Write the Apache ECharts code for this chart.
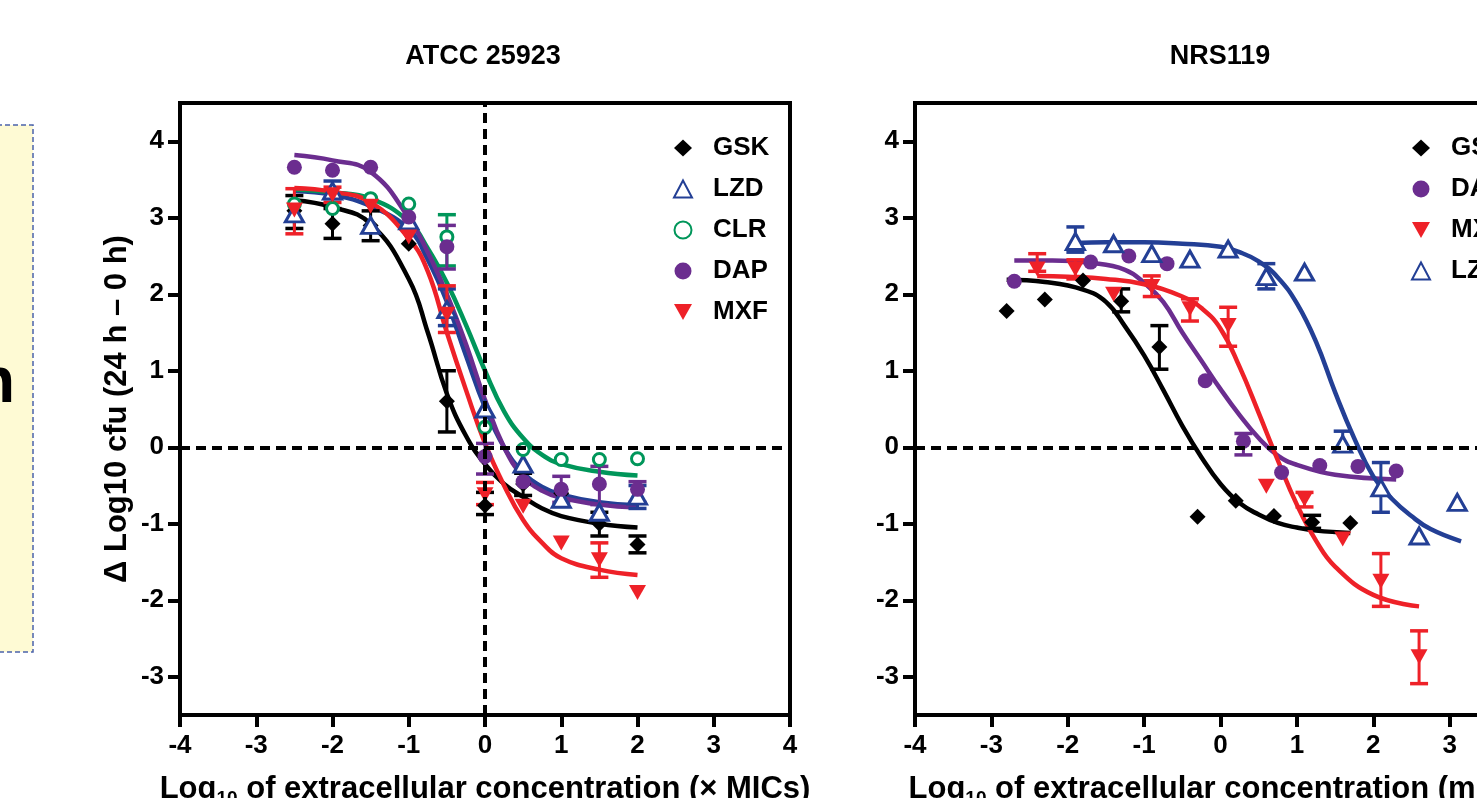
<!DOCTYPE html>
<html><head><meta charset="utf-8">
<script src="https://cdn.jsdelivr.net/npm/echarts@6/dist/echarts.min.js"></script>
<style>html,body{margin:0;padding:0;background:#fff;}#c{width:1477px;height:798px;}</style>
</head><body><div id="c"></div>
<script>
// ---------- tick labels ----------
const xTicks = [-4, -3, -2, -1, 0, 1, 2, 3, 4];
const yTicks = [-3, -2, -1, 0, 1, 2, 3, 4];

// ---------- Panel A: ATCC 25923 (x = log10 × MIC) ----------
const atccX = [-2.5, -2, -1.5, -1, -0.5, 0, 0.5, 1, 1.5, 2];
const atccGSK = [3.09, 2.92, 2.90, 2.66, 0.60, -0.76, -0.48, -0.60, -1.00, -1.27];
const atccLZD = [3.05, 3.35, 2.90, 2.96, 1.80, 0.50, -0.22, -0.68, -0.85, -0.64];
const atccCLR = [3.18, 3.12, 3.25, 3.18, 2.75, 0.26, -0.03, -0.16, -0.16, -0.15];
const atccDAP = [3.66, 3.62, 3.66, 3.01, 2.62, -0.12, -0.45, -0.55, -0.48, -0.55];
const atccMXF = [3.10, 3.30, 3.15, 2.75, 1.74, -0.62, -0.77, -1.25, -1.47, -1.90];
// error bars: [x, low, high]
const atccGSKErr = [[-2.5, 2.86, 3.29], [-2, 2.73, 3.12], [-1.5, 2.70, 3.09], [-0.5, 0.20, 1.00], [0, -0.88, -0.59], [0.5, -0.63, -0.34], [1.5, -1.16, -0.85], [2, -1.38, -1.16]];
const atccLZDErr = [[-2, 3.25, 3.48], [-0.5, 1.59, 2.07], [2, -0.80, -0.50]];
const atccCLRErr = [[-0.5, 2.37, 3.04]];
const atccDAPErr = [[-0.5, 2.33, 2.90], [0, -0.35, 0.05], [1, -0.72, -0.38], [1.5, -0.75, -0.25], [2, -0.72, -0.45]];
const atccMXFErr = [[-2.5, 2.79, 3.38], [-2, 3.20, 3.40], [-0.5, 1.50, 2.11], [0, -0.75, -0.46], [1.5, -1.70, -1.25]];
// fitted curves
const atccFitX = [-2.5, -2, -1.5, -1, -0.75, -0.5, -0.25, 0, 0.25, 0.5, 0.75, 1, 1.5, 2];
const atccGSKFit = [3.23, 3.14, 2.92, 2.20, 1.50, 0.70, 0.15, -0.22, -0.48, -0.65, -0.80, -0.90, -1.00, -1.05];
const atccLZDFit = [3.35, 3.30, 3.15, 2.85, 2.45, 1.90, 1.20, 0.52, 0.00, -0.33, -0.52, -0.62, -0.72, -0.76];
const atccCLRFit = [3.37, 3.33, 3.25, 2.95, 2.60, 2.15, 1.60, 1.00, 0.47, 0.12, -0.10, -0.22, -0.32, -0.37];
const atccDAPFit = [3.82, 3.75, 3.60, 3.00, 2.55, 2.00, 1.35, 0.62, 0.00, -0.38, -0.57, -0.66, -0.75, -0.79];
const atccMXFFit = [3.39, 3.34, 3.20, 2.73, 2.30, 1.50, 0.75, 0.05, -0.50, -0.95, -1.25, -1.45, -1.60, -1.67];

// ---------- Panel B: NRS119 (x = log10 mg/L) ----------
const nrsGSKX = [-2.8, -2.3, -1.8, -1.3, -0.8, -0.3, 0.2, 0.7, 1.2, 1.7];
const nrsGSK = [1.78, 1.93, 2.18, 1.91, 1.31, -0.91, -0.70, -0.90, -0.98, -0.99];
const nrsDAPX = [-2.7, -1.7, -1.2, -0.7, -0.2, 0.3, 0.8, 1.3, 1.8, 2.3];
const nrsDAP = [2.17, 2.42, 2.50, 2.40, 0.87, 0.08, -0.33, -0.24, -0.25, -0.31];
const nrsMXFX = [-2.4, -1.9, -1.4, -0.9, -0.4, 0.1, 0.6, 1.1, 1.6, 2.1, 2.6];
const nrsMXF = [2.33, 2.33, 2.00, 2.10, 1.81, 1.59, -0.51, -0.68, -1.20, -1.75, -2.74];
const nrsLZDX = [-1.9, -1.4, -0.9, -0.4, 0.1, 0.6, 1.1, 1.6, 2.1, 2.6, 3.1];
const nrsLZD = [2.69, 2.66, 2.53, 2.46, 2.59, 2.23, 2.29, 0.04, -0.53, -1.16, -0.72];
const nrsGSKErr = [[-1.3, 1.77, 2.07], [-0.8, 1.02, 1.59], [1.2, -1.06, -0.89]];
const nrsDAPErr = [[0.3, -0.10, 0.18]];
const nrsMXFErr = [[-2.4, 2.30, 2.53], [-1.9, 2.20, 2.45], [-0.9, 1.97, 2.24], [-0.4, 1.65, 1.94], [0.1, 1.32, 1.83], [1.1, -0.78, -0.59], [2.1, -2.08, -1.39], [2.6, -3.09, -2.40]];
const nrsLZDErr = [[-1.9, 2.55, 2.88], [0.6, 2.07, 2.40], [1.6, -0.05, 0.21], [2.1, -0.85, -0.20]];
const nrsGSKFitX = [-2.8, -2.3, -1.8, -1.5, -1.25, -1, -0.75, -0.5, -0.25, 0, 0.25, 0.5, 0.75, 1, 1.25, 1.7];
const nrsGSKFit = [2.19, 2.16, 2.06, 1.90, 1.58, 1.20, 0.75, 0.28, -0.13, -0.48, -0.73, -0.88, -0.99, -1.05, -1.09, -1.12];
const nrsDAPFitX = [-2.7, -2.2, -1.7, -1.25, -1, -0.75, -0.5, -0.25, 0, 0.25, 0.5, 0.75, 1, 1.5, 2.3];
const nrsDAPFit = [2.44, 2.44, 2.41, 2.32, 2.15, 1.90, 1.50, 1.13, 0.76, 0.42, 0.12, -0.11, -0.23, -0.36, -0.42];
const nrsMXFFitX = [-2.4, -2, -1.5, -1, -0.5, -0.25, 0, 0.25, 0.5, 0.75, 1, 1.25, 1.5, 2, 2.6];
const nrsMXFFit = [2.24, 2.23, 2.20, 2.13, 1.97, 1.82, 1.55, 1.05, 0.45, -0.17, -0.75, -1.22, -1.56, -1.93, -2.08];
const nrsLZDFitX = [-1.9, -1.5, -1, -0.5, 0, 0.25, 0.5, 0.75, 1, 1.25, 1.5, 1.75, 2, 2.25, 2.5, 2.75, 3.15];
const nrsLZDFit = [2.67, 2.68, 2.68, 2.66, 2.62, 2.55, 2.43, 2.22, 1.88, 1.38, 0.72, 0.12, -0.38, -0.68, -0.90, -1.07, -1.23];

// ---------- styles ----------
const FONT = '"Liberation Sans", Arial, Helvetica, sans-serif';
const C = { GSK: '#000000', LZD: '#233F95', CLR: '#00965A', DAP: '#6B2D8F', MXF: '#EE2128' };
const SYM = {
  GSK: { symbol: 'diamond', symbolSize: 16, itemStyle: { color: C.GSK, opacity: 1 } },
  LZD: { symbol: 'triangle', symbolSize: [18, 16], itemStyle: { color: '#ffffff', borderColor: C.LZD, borderWidth: 3, opacity: 1 } },
  CLR: { symbol: 'circle', symbolSize: 12, itemStyle: { color: '#ffffff', borderColor: C.CLR, borderWidth: 3, opacity: 1 } },
  DAP: { symbol: 'circle', symbolSize: 15, itemStyle: { color: C.DAP, opacity: 1 } },
  MXF: { symbol: 'path://M0,0 L18,0 L9,16 Z', symbolSize: [17, 15], itemStyle: { color: C.MXF, opacity: 1 } }
};

const pairs = (xs, ys) => xs.map((x, i) => [x, ys[i]]);

function scatter(name, xs, ys, gi) {
  return Object.assign({ type: 'scatter', name, xAxisIndex: gi, yAxisIndex: gi, data: pairs(xs, ys), z: 4, silent: true }, JSON.parse(JSON.stringify(SYM[name])));
}
function curve(name, xs, ys, gi) {
  return { type: 'line', name: name + ' fit ' + gi, xAxisIndex: gi, yAxisIndex: gi, data: pairs(xs, ys),
    smooth: 0.45, showSymbol: false, symbol: 'none', silent: true, z: 2,
    lineStyle: { color: C[name], width: 4.5 } };
}
function errbar(name, data, gi) {
  const color = C[name];
  return { type: 'custom', name: name + ' err ' + gi, xAxisIndex: gi, yAxisIndex: gi, data, z: 3, silent: true,
    encode: { x: 0, y: [1, 2] },
    renderItem: (p, api) => {
      const x = api.value(0), lo = api.value(1), hi = api.value(2);
      const a = api.coord([x, lo]), b = api.coord([x, hi]);
      const w = 9;
      return { type: 'group', children: [
        { type: 'line', shape: { x1: a[0], y1: a[1], x2: b[0], y2: b[1] }, style: { stroke: color, lineWidth: 3 } },
        { type: 'line', shape: { x1: a[0] - w, y1: a[1], x2: a[0] + w, y2: a[1] }, style: { stroke: color, lineWidth: 3.5 } },
        { type: 'line', shape: { x1: b[0] - w, y1: b[1], x2: b[0] + w, y2: b[1] }, style: { stroke: color, lineWidth: 3.5 } }
      ] };
    } };
}
function refLines(gi, lines) {
  return { type: 'line', name: 'ref ' + gi, xAxisIndex: gi, yAxisIndex: gi, data: [], symbol: 'none', silent: true, z: 1,
    markLine: { silent: true, symbol: ['none', 'none'], label: { show: false }, animation: false,
      lineStyle: { color: '#000', width: 4, type: [10, 6] }, data: lines } };
}

const xName = (unit) => '{a|Log}{s|10}{a| of extracellular concentration (' + unit + ')}';
const nameRich = {
  a: { fontSize: 31, fontWeight: 'bold', color: '#000', fontFamily: FONT, lineHeight: 38 },
  s: { fontSize: 19, fontWeight: 'bold', color: '#000', fontFamily: FONT, lineHeight: 19, verticalAlign: 'bottom' }
};

function xAxis(gi, unit) {
  return { type: 'value', gridIndex: gi, min: -4, max: 4, interval: 1,
    axisLine: { show: true, onZero: false, lineStyle: { color: '#000', width: 4 } },
    axisTick: { show: true, length: 12, customValues: xTicks, lineStyle: { color: '#000', width: 4 } },
    axisLabel: { customValues: xTicks, color: '#000', fontSize: 26, fontWeight: 'bold', fontFamily: FONT, margin: 18 },
    splitLine: { show: false },
    name: xName(unit), nameLocation: 'middle', nameGap: 55, nameTextStyle: { rich: nameRich } };
}
function yAxis(gi, name) {
  return { type: 'value', gridIndex: gi, min: -3.5, max: 4.5,
    axisLine: { show: true, onZero: false, lineStyle: { color: '#000', width: 4 } },
    axisTick: { show: true, length: 12, customValues: yTicks, lineStyle: { color: '#000', width: 4 } },
    axisLabel: { customValues: yTicks, color: '#000', fontSize: 26, fontWeight: 'bold', fontFamily: FONT, margin: 16 },
    splitLine: { show: false },
    name: name || '', nameLocation: 'middle', nameGap: 47,
    nameTextStyle: { fontSize: 31, fontWeight: 'bold', color: '#000', fontFamily: FONT } };
}

const legendBase = {
  orient: 'vertical', itemWidth: 18, itemHeight: 17, itemGap: 15, selectedMode: false, symbolKeepAspect: true,
  textStyle: { fontSize: 26, fontWeight: 'bold', color: '#000', fontFamily: FONT, padding: [0, 0, 0, 16] }
};

const option = {
  animation: false,
  backgroundColor: '#ffffff',
  textStyle: { fontFamily: FONT },
  grid: [
    { left: 180, top: 103, width: 610, height: 612, show: true, borderColor: '#000', borderWidth: 4, backgroundColor: 'transparent', outerBoundsMode: 'none', containLabel: false },
    { left: 915, top: 103, width: 611, height: 612, show: true, borderColor: '#000', borderWidth: 4, backgroundColor: 'transparent', outerBoundsMode: 'none', containLabel: false }
  ],
  xAxis: [xAxis(0, '× MICs'), xAxis(1, 'mg/L')],
  yAxis: [yAxis(0, 'Δ Log10 cfu (24 h – 0 h)'), yAxis(1, '')],
  legend: [
    Object.assign({}, legendBase, { left: 668, top: 130, data: ['GSK', 'LZD', 'CLR', 'DAP', 'MXF'] }),
    Object.assign({}, legendBase, { left: 1406, top: 130, data: ['GSK', 'DAP', 'MXF', 'LZD'] })
  ],
  graphic: [
    { type: 'rect', z: 0, shape: { x: -3, y: 125, width: 36, height: 527 },
      style: { fill: '#FEFAD4', stroke: '#4B63AA', lineWidth: 1.5, lineDash: [5, 3] } },
    { type: 'text', z: 1, style: { text: 'n', x: -24, y: 384, font: 'bold 64px ' + FONT, fill: '#000', textAlign: 'left', textVerticalAlign: 'middle' } },
    { type: 'text', style: { text: 'ATCC 25923', x: 483, y: 57, font: 'bold 27px ' + FONT, fill: '#000', textAlign: 'center', textVerticalAlign: 'middle' } },
    { type: 'text', style: { text: 'NRS119', x: 1220, y: 57, font: 'bold 27px ' + FONT, fill: '#000', textAlign: 'center', textVerticalAlign: 'middle' } }
  ],
  series: [
    refLines(0, [{ yAxis: 0 }, { xAxis: 0 }]),
    refLines(1, [{ yAxis: 0 }]),
    // panel A curves
    curve('GSK', atccFitX, atccGSKFit, 0),
    curve('LZD', atccFitX, atccLZDFit, 0),
    curve('CLR', atccFitX, atccCLRFit, 0),
    curve('DAP', atccFitX, atccDAPFit, 0),
    curve('MXF', atccFitX, atccMXFFit, 0),
    // panel A error bars
    errbar('GSK', atccGSKErr, 0), errbar('LZD', atccLZDErr, 0), errbar('CLR', atccCLRErr, 0),
    errbar('DAP', atccDAPErr, 0), errbar('MXF', atccMXFErr, 0),
    // panel A points
    scatter('GSK', atccX, atccGSK, 0),
    scatter('LZD', atccX, atccLZD, 0),
    scatter('CLR', atccX, atccCLR, 0),
    scatter('DAP', atccX, atccDAP, 0),
    scatter('MXF', atccX, atccMXF, 0),
    // panel B curves
    curve('GSK', nrsGSKFitX, nrsGSKFit, 1),
    curve('DAP', nrsDAPFitX, nrsDAPFit, 1),
    curve('MXF', nrsMXFFitX, nrsMXFFit, 1),
    curve('LZD', nrsLZDFitX, nrsLZDFit, 1),
    errbar('GSK', nrsGSKErr, 1), errbar('DAP', nrsDAPErr, 1), errbar('MXF', nrsMXFErr, 1), errbar('LZD', nrsLZDErr, 1),
    scatter('GSK', nrsGSKX, nrsGSK, 1),
    scatter('DAP', nrsDAPX, nrsDAP, 1),
    scatter('MXF', nrsMXFX, nrsMXF, 1),
    scatter('LZD', nrsLZDX, nrsLZD, 1)
  ]
};

const chart = echarts.init(document.getElementById('c'), null, { renderer: 'canvas' });
chart.setOption(option);
</script></body></html>
